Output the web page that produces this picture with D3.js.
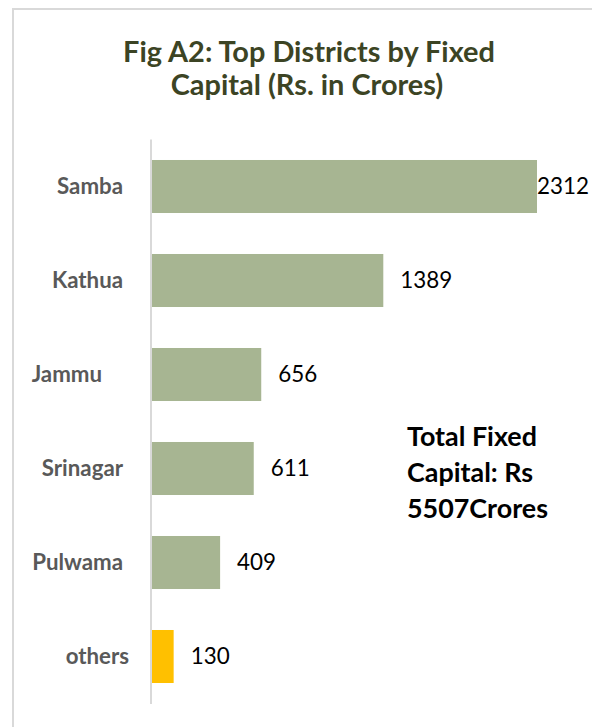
<!DOCTYPE html>
<html>
<head>
<meta charset="utf-8">
<script src="https://cdn.jsdelivr.net/npm/d3@7"></script>
<style>
  html, body { margin: 0; padding: 0; background: #ffffff; }
  svg { display: block; }
</style>
</head>
<body>
<script>
// ---- data ----
const categories = ["Samba", "Kathua", "Jammu", "Srinagar", "Pulwama", "others"];
const values = [2312, 1389, 656, 611, 409, 130];
const titleLines = ["Fig A2: Top Districts by Fixed", "Capital (Rs. in Crores)"];
const noteLines = ["Total Fixed", "Capital: Rs", "5507Crores"];

// ---- layout ----
const W = 592, H = 727;
const FONT = "Lato, 'Open Sans', sans-serif";
const svg = d3.select("body").append("svg").attr("width", W).attr("height", H);

svg.append("rect").attr("x", 0).attr("y", 0).attr("width", W).attr("height", H).attr("fill", "#ffffff");
svg.append("rect").attr("x", 13).attr("y", 9).attr("width", 640).attr("height", 760)
  .attr("fill", "none").attr("stroke", "#d9d9d9").attr("stroke-width", 2);

// fit font size to target width
function fit(sel, target) {
  const base = 20;
  sel.style("font-size", base + "px");
  const len = sel.node().getComputedTextLength();
  const size = base * target / len;
  sel.style("font-size", size + "px");
  return size;
}

// title
const tColor = "#3c4424";
const t1 = svg.append("text").attr("x", 309).attr("y", 62).attr("text-anchor", "middle")
  .style("font-family", FONT).style("font-weight", 700).attr("fill", tColor).text(titleLines[0]);
const tSize = fit(t1, 372);
svg.append("text").attr("x", 307).attr("y", 95).attr("text-anchor", "middle")
  .style("font-family", FONT).style("font-weight", 700).style("font-size", tSize + "px")
  .attr("fill", tColor).text(titleLines[1]);

// scales
const x = d3.scaleLinear().domain([0, 2500]).range([152, 568.3]);
const y = d3.scaleBand().domain(categories).range([139.5, 703.5]).paddingInner(0.436).paddingOuter(0.218);

// bars
svg.append("g").selectAll("rect").data(values).join("rect")
  .attr("x", x(0))
  .attr("y", (d, i) => y(categories[i]))
  .attr("width", d => x(d) - x(0))
  .attr("height", y.bandwidth())
  .attr("fill", (d, i) => categories[i] === "others" ? "#ffc000" : "#a7b592");

// axis line
svg.append("line").attr("x1", 151).attr("x2", 151).attr("y1", 139.5).attr("y2", 704)
  .attr("stroke", "#d9d9d9").attr("stroke-width", 2);

// category labels via axis
const labelShift = { "Jammu": -21, "others": 6 };
const yAxis = d3.axisLeft(y).tickSize(0).tickPadding(0);
const ag = svg.append("g").attr("transform", "translate(123,0)").call(yAxis);
ag.select(".domain").remove();
const probe = svg.append("text").style("font-family", FONT).style("font-weight", 700).text("Samba");
const catSize = fit(probe, 66);
probe.remove();
ag.selectAll(".tick text")
  .attr("x", d => labelShift[d] || 0)
  .attr("dy", "0.35em")
  .style("font-family", FONT).style("font-weight", 700).style("font-size", catSize + "px")
  .attr("fill", "#595959");

// value labels
const probe2 = svg.append("text").style("font-family", FONT).text("1389");
const valSize = fit(probe2, 52);
probe2.remove();
const rightLimit = 589;
svg.append("g").selectAll("text").data(values).join("text")
  .style("font-family", FONT).style("font-size", valSize + "px").attr("fill", "#000000")
  .attr("y", (d, i) => y(categories[i]) + y.bandwidth() / 2)
  .attr("dy", "0.35em")
  .text(d => d)
  .attr("x", function(d) {
    const w = this.getComputedTextLength();
    return Math.min(x(d) + 17, rightLimit - w);
  });

// note
const n0 = svg.append("text").attr("x", 407).attr("y", 446)
  .style("font-family", FONT).style("font-weight", 700).attr("fill", "#000").text(noteLines[0]);
const nSize = fit(n0, 130);
noteLines.slice(1).forEach((s, i) => {
  svg.append("text").attr("x", 407).attr("y", 482 + i * 36)
    .style("font-family", FONT).style("font-weight", 700).style("font-size", nSize + "px")
    .attr("fill", "#000").text(s);
});
</script>
</body>
</html>
